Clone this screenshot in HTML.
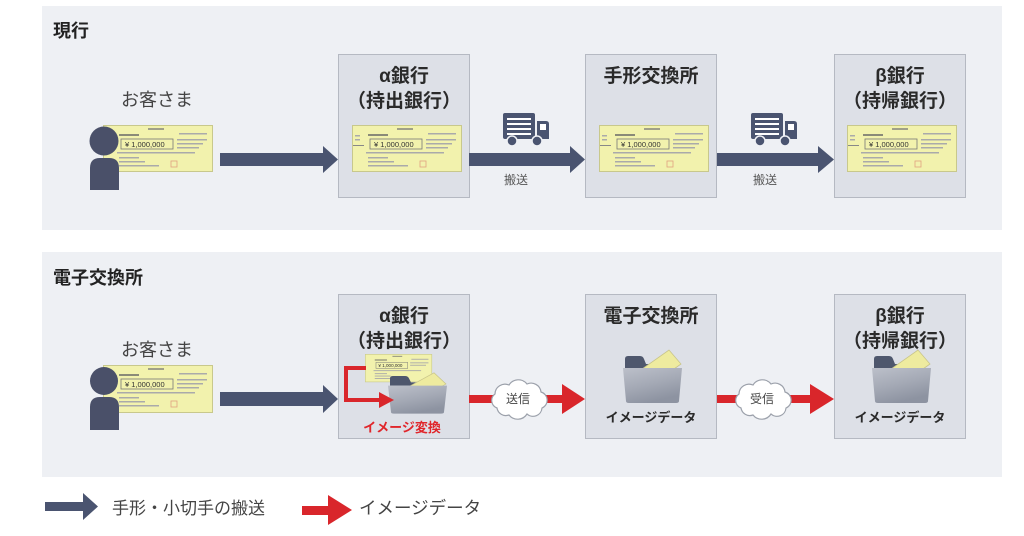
<!DOCTYPE html>
<html><head><meta charset="utf-8"><style>
html,body{margin:0;padding:0;background:#fff;}
svg{display:block;}
text{font-family:"Liberation Sans","Noto Sans CJK JP",sans-serif;}
</style></head><body>
<svg width="1024" height="536" viewBox="0 0 1024 536" xmlns="http://www.w3.org/2000/svg">
<defs>
<linearGradient id="fg" x1="0" y1="0" x2="0.4" y2="1">
<stop offset="0" stop-color="#bcc0ca"/><stop offset="0.55" stop-color="#a4a9b5"/><stop offset="1" stop-color="#8d93a1"/>
</linearGradient>
</defs>
<rect width="1024" height="536" fill="#fff"/>
<!-- panels -->
<rect x="42" y="6" width="960" height="224" fill="#eef0f4"/>
<rect x="42" y="252" width="960" height="225" fill="#eef0f4"/>
<text x="53" y="37" font-size="18" font-weight="bold" fill="#222">現行</text>
<text x="53" y="284" font-size="18" font-weight="bold" fill="#222">電子交換所</text>

<!-- boxes panel1 -->
<rect x="338.5" y="54.5" width="131" height="143" fill="#dde0e7" stroke="#b5b9c2"/>
<rect x="585.5" y="54.5" width="131" height="143" fill="#dde0e7" stroke="#b5b9c2"/>
<rect x="834.5" y="54.5" width="131" height="143" fill="#dde0e7" stroke="#b5b9c2"/>
<!-- boxes panel2 -->
<rect x="338.5" y="294.5" width="131" height="144" fill="#dde0e7" stroke="#b5b9c2"/>
<rect x="585.5" y="294.5" width="131" height="144" fill="#dde0e7" stroke="#b5b9c2"/>
<rect x="834.5" y="294.5" width="131" height="144" fill="#dde0e7" stroke="#b5b9c2"/>

<!-- box titles -->
<g font-size="19" font-weight="bold" fill="#2a2a2a" text-anchor="middle">
<text x="404" y="82">α銀行</text>
<text x="404" y="107">（持出銀行）</text>
<text x="651" y="82">手形交換所</text>
<text x="900" y="82">β銀行</text>
<text x="900" y="107">（持帰銀行）</text>
<text x="404" y="322">α銀行</text>
<text x="404" y="347">（持出銀行）</text>
<text x="651" y="322">電子交換所</text>
<text x="900" y="322">β銀行</text>
<text x="900" y="347">（持帰銀行）</text>
</g>

<!-- customer labels -->
<text x="157" y="106" font-size="18" fill="#444" text-anchor="middle">お客さま</text>
<text x="157" y="356" font-size="18" fill="#444" text-anchor="middle">お客さま</text>

<!-- checks -->
<g transform="translate(103,125)">
<rect x="0.5" y="0.5" width="109" height="46" fill="#f2f2ad" stroke="#c8c88c"/>
<rect x="45" y="3" width="16" height="2" fill="#a0a088"/><rect x="16" y="9" width="20" height="2" fill="#8a8a78"/>
<rect x="18" y="14" width="52" height="10" fill="none" stroke="#777" stroke-width="0.8"/>
<text x="22" y="22" font-size="7.5" fill="#333">¥ 1,000,000</text>
<rect x="76" y="8" width="28" height="1.5" fill="#aaa"/><rect x="74" y="14" width="30" height="1.5" fill="#aaa"/><rect x="74" y="18" width="26" height="1.5" fill="#aaa"/><rect x="74" y="22" width="22" height="1.5" fill="#aaa"/>
<rect x="14" y="27" width="78" height="1.5" fill="#aaa"/><rect x="16" y="32" width="20" height="1.5" fill="#aaa"/><rect x="16" y="36" width="26" height="1.5" fill="#aaa"/><rect x="16" y="40" width="40" height="1.5" fill="#aaa"/>
<rect x="68" y="36" width="6" height="6" fill="none" stroke="#e0a080" stroke-width="0.8"/>
</g>
<g transform="translate(352,125)">
<rect x="0.5" y="0.5" width="109" height="46" fill="#f2f2ad" stroke="#c8c88c"/>
<rect x="45" y="3" width="16" height="2" fill="#a0a088"/><rect x="16" y="9" width="20" height="2" fill="#8a8a78"/>
<rect x="3" y="10" width="5" height="1.5" fill="#aaa"/><rect x="3" y="14" width="5" height="1.5" fill="#aaa"/><rect x="1" y="20" width="11" height="1" fill="#888"/>
<rect x="18" y="14" width="52" height="10" fill="none" stroke="#777" stroke-width="0.8"/>
<text x="22" y="22" font-size="7.5" fill="#333">¥ 1,000,000</text>
<rect x="76" y="8" width="28" height="1.5" fill="#aaa"/><rect x="74" y="14" width="30" height="1.5" fill="#aaa"/><rect x="74" y="18" width="26" height="1.5" fill="#aaa"/><rect x="74" y="22" width="22" height="1.5" fill="#aaa"/>
<rect x="14" y="27" width="78" height="1.5" fill="#aaa"/><rect x="16" y="32" width="20" height="1.5" fill="#aaa"/><rect x="16" y="36" width="26" height="1.5" fill="#aaa"/><rect x="16" y="40" width="40" height="1.5" fill="#aaa"/>
<rect x="68" y="36" width="6" height="6" fill="none" stroke="#e0a080" stroke-width="0.8"/>
</g>
<g transform="translate(599,125)">
<rect x="0.5" y="0.5" width="109" height="46" fill="#f2f2ad" stroke="#c8c88c"/>
<rect x="45" y="3" width="16" height="2" fill="#a0a088"/><rect x="16" y="9" width="20" height="2" fill="#8a8a78"/>
<rect x="3" y="10" width="5" height="1.5" fill="#aaa"/><rect x="3" y="14" width="5" height="1.5" fill="#aaa"/><rect x="1" y="20" width="11" height="1" fill="#888"/>
<rect x="18" y="14" width="52" height="10" fill="none" stroke="#777" stroke-width="0.8"/>
<text x="22" y="22" font-size="7.5" fill="#333">¥ 1,000,000</text>
<rect x="76" y="8" width="28" height="1.5" fill="#aaa"/><rect x="74" y="14" width="30" height="1.5" fill="#aaa"/><rect x="74" y="18" width="26" height="1.5" fill="#aaa"/><rect x="74" y="22" width="22" height="1.5" fill="#aaa"/>
<rect x="14" y="27" width="78" height="1.5" fill="#aaa"/><rect x="16" y="32" width="20" height="1.5" fill="#aaa"/><rect x="16" y="36" width="26" height="1.5" fill="#aaa"/><rect x="16" y="40" width="40" height="1.5" fill="#aaa"/>
<rect x="68" y="36" width="6" height="6" fill="none" stroke="#e0a080" stroke-width="0.8"/>
</g>
<g transform="translate(847,125)">
<rect x="0.5" y="0.5" width="109" height="46" fill="#f2f2ad" stroke="#c8c88c"/>
<rect x="45" y="3" width="16" height="2" fill="#a0a088"/><rect x="16" y="9" width="20" height="2" fill="#8a8a78"/>
<rect x="3" y="10" width="5" height="1.5" fill="#aaa"/><rect x="3" y="14" width="5" height="1.5" fill="#aaa"/><rect x="1" y="20" width="11" height="1" fill="#888"/>
<rect x="18" y="14" width="52" height="10" fill="none" stroke="#777" stroke-width="0.8"/>
<text x="22" y="22" font-size="7.5" fill="#333">¥ 1,000,000</text>
<rect x="76" y="8" width="28" height="1.5" fill="#aaa"/><rect x="74" y="14" width="30" height="1.5" fill="#aaa"/><rect x="74" y="18" width="26" height="1.5" fill="#aaa"/><rect x="74" y="22" width="22" height="1.5" fill="#aaa"/>
<rect x="14" y="27" width="78" height="1.5" fill="#aaa"/><rect x="16" y="32" width="20" height="1.5" fill="#aaa"/><rect x="16" y="36" width="26" height="1.5" fill="#aaa"/><rect x="16" y="40" width="40" height="1.5" fill="#aaa"/>
<rect x="68" y="36" width="6" height="6" fill="none" stroke="#e0a080" stroke-width="0.8"/>
</g>
<g transform="translate(103,365)">
<rect x="0.5" y="0.5" width="109" height="47" fill="#f2f2ad" stroke="#c8c88c"/>
<rect x="45" y="3" width="16" height="2" fill="#a0a088"/><rect x="16" y="9" width="20" height="2" fill="#8a8a78"/>
<rect x="18" y="14" width="52" height="10" fill="none" stroke="#777" stroke-width="0.8"/>
<text x="22" y="22" font-size="7.5" fill="#333">¥ 1,000,000</text>
<rect x="76" y="8" width="28" height="1.5" fill="#aaa"/><rect x="74" y="14" width="30" height="1.5" fill="#aaa"/><rect x="74" y="18" width="26" height="1.5" fill="#aaa"/><rect x="74" y="22" width="22" height="1.5" fill="#aaa"/>
<rect x="14" y="27" width="78" height="1.5" fill="#aaa"/><rect x="16" y="32" width="20" height="1.5" fill="#aaa"/><rect x="16" y="36" width="26" height="1.5" fill="#aaa"/><rect x="16" y="40" width="40" height="1.5" fill="#aaa"/>
<rect x="68" y="36" width="6" height="6" fill="none" stroke="#e0a080" stroke-width="0.8"/>
</g>

<!-- persons -->
<g fill="#4a5069">
<circle cx="104" cy="141" r="14.5"/>
<path d="M90 190 L90 168 Q90 158 100 158 L109 158 Q119 158 119 168 L119 190 Z"/>
<circle cx="104" cy="381" r="14"/>
<path d="M90 430 L90 407 Q90 397 100 397 L109 397 Q119 397 119 407 L119 430 Z"/>
</g>

<!-- dark arrows -->
<g fill="#4a5470">
<path d="M220 153 L323 153 L323 146 L338 159.5 L323 173 L323 166 L220 166 Z"/>
<path d="M469 153 L570 153 L570 146 L585 159.5 L570 173 L570 166 L469 166 Z"/>
<path d="M717 153 L818 153 L818 146 L834 159.5 L818 173 L818 166 L717 166 Z"/>
<path d="M220 392 L323 392 L323 385 L338 399 L323 413 L323 406 L220 406 Z"/>
<path d="M45 502 L83 502 L83 493 L98 506.5 L83 520 L83 511 L45 511 Z"/>
</g>

<!-- trucks -->
<g>
<rect x="503" y="113" width="32" height="26" rx="2" fill="#4a5470"/>
<g fill="#fff"><rect x="507" y="118" width="24" height="2"/><rect x="507" y="123" width="24" height="2"/><rect x="507" y="128" width="24" height="2"/><rect x="507" y="133" width="24" height="2"/></g>
<path d="M537 121 L546 121 Q549 121 549 124 L549 139 L537 139 Z" fill="#4a5470"/>
<rect x="540" y="124" width="6" height="6" fill="#fff"/>
<circle cx="512" cy="141" r="5" fill="#4a5470" stroke="#eef0f4" stroke-width="1.5"/>
<circle cx="537" cy="141" r="5" fill="#4a5470" stroke="#eef0f4" stroke-width="1.5"/>
</g>
<g transform="translate(248,0)">
<rect x="503" y="113" width="32" height="26" rx="2" fill="#4a5470"/>
<g fill="#fff"><rect x="507" y="118" width="24" height="2"/><rect x="507" y="123" width="24" height="2"/><rect x="507" y="128" width="24" height="2"/><rect x="507" y="133" width="24" height="2"/></g>
<path d="M537 121 L546 121 Q549 121 549 124 L549 139 L537 139 Z" fill="#4a5470"/>
<rect x="540" y="124" width="6" height="6" fill="#fff"/>
<circle cx="512" cy="141" r="5" fill="#4a5470" stroke="#eef0f4" stroke-width="1.5"/>
<circle cx="537" cy="141" r="5" fill="#4a5470" stroke="#eef0f4" stroke-width="1.5"/>
</g>
<text x="516" y="184" font-size="12" fill="#555" text-anchor="middle">搬送</text>
<text x="765" y="184" font-size="12" fill="#555" text-anchor="middle">搬送</text>

<!-- alpha box panel2: small check -->
<g transform="translate(365,354) scale(0.61,0.6)">
<rect x="0.5" y="0.5" width="109" height="46" fill="#f2f2ad" stroke="#c8c88c"/>
<rect x="45" y="3" width="16" height="2" fill="#a0a088"/><rect x="16" y="9" width="20" height="2" fill="#8a8a78"/>
<rect x="18" y="14" width="52" height="10" fill="none" stroke="#777" stroke-width="0.8"/>
<text x="22" y="22" font-size="7.5" fill="#333">¥ 1,000,000</text>
<rect x="76" y="8" width="28" height="1.5" fill="#aaa"/><rect x="74" y="14" width="30" height="1.5" fill="#aaa"/><rect x="74" y="18" width="26" height="1.5" fill="#aaa"/>
<rect x="14" y="27" width="78" height="1.5" fill="#aaa"/><rect x="16" y="32" width="20" height="1.5" fill="#aaa"/><rect x="16" y="36" width="26" height="1.5" fill="#aaa"/><rect x="16" y="40" width="40" height="1.5" fill="#aaa"/>
</g>

<!-- folders -->
<g transform="translate(388,376) scale(1,0.8)">
<path d="M2 12 L2 3 Q2 0 5 0 L17 0 Q20 0 21 3 L23 8 L30 8 L30 12 Z" fill="#4e576d"/>
<polygon points="14,18 46,-4 58,10 26,32" fill="#eeeb9f" stroke="#c8c48a" stroke-width="0.8"/>
<path d="M0 12 L59 12 L56 45 Q56 47 53 47 L6 47 Q3 47 3 45 Z" fill="url(#fg)"/>
</g>
<g transform="translate(623,356)">
<path d="M2 12 L2 3 Q2 0 5 0 L17 0 Q20 0 21 3 L23 8 L30 8 L30 12 Z" fill="#4e576d"/>
<polygon points="12,18 46,-6 58,8 24,32" fill="#eeeb9f" stroke="#c8c48a" stroke-width="0.8"/>
<path d="M0 12 L59 12 L56 45 Q56 47 53 47 L6 47 Q3 47 3 45 Z" fill="url(#fg)"/>
</g>
<g transform="translate(872,356)">
<path d="M2 12 L2 3 Q2 0 5 0 L17 0 Q20 0 21 3 L23 8 L30 8 L30 12 Z" fill="#4e576d"/>
<polygon points="12,18 46,-6 58,8 24,32" fill="#eeeb9f" stroke="#c8c48a" stroke-width="0.8"/>
<path d="M0 12 L59 12 L56 45 Q56 47 53 47 L6 47 Q3 47 3 45 Z" fill="url(#fg)"/>
</g>

<!-- red bracket arrow -->
<polyline points="366,368 346,368 346,400 381,400" fill="none" stroke="#d9262b" stroke-width="4"/>
<polygon points="379,392 394,400 379,408" fill="#d9262b"/>
<text x="402" y="432" font-size="13" font-weight="bold" fill="#e0262b" text-anchor="middle">イメージ変換</text>
<g font-size="13" font-weight="bold" fill="#2a2a2a" text-anchor="middle">
<text x="651" y="422">イメージデータ</text>
<text x="900" y="422">イメージデータ</text>
</g>

<!-- red arrows -->
<g fill="#d9262b">
<path d="M469 395 L562 395 L562 384 L585 399 L562 414 L562 403 L469 403 Z"/>
<path d="M717 395 L810 395 L810 384 L834 399 L810 414 L810 403 L717 403 Z"/>
<path d="M302 506 L328 506 L328 495 L352 510 L328 525 L328 515 L302 515 Z"/>
</g>
<!-- clouds -->
<g fill="#fff" stroke="#9ca1ab" stroke-width="1.2">
<path transform="translate(487,378)" d="M10 30 A8 8 0 0 1 8 16 A10 10 0 0 1 22 7 A11 11 0 0 1 40 6 A10 10 0 0 1 54 14 A8.5 8.5 0 0 1 55 30 A9 9 0 0 1 40 36 A11 11 0 0 1 22 37 A9 9 0 0 1 10 30 Z"/>
<path transform="translate(731,378)" d="M10 30 A8 8 0 0 1 8 16 A10 10 0 0 1 22 7 A11 11 0 0 1 40 6 A10 10 0 0 1 54 14 A8.5 8.5 0 0 1 55 30 A9 9 0 0 1 40 36 A11 11 0 0 1 22 37 A9 9 0 0 1 10 30 Z"/>
</g>
<text x="518" y="403" font-size="12" fill="#444" text-anchor="middle">送信</text>
<text x="762" y="403" font-size="12" fill="#444" text-anchor="middle">受信</text>

<!-- legend -->
<text x="112" y="514" font-size="17" fill="#444">手形・小切手の搬送</text>
<text x="359" y="514" font-size="17.5" fill="#444">イメージデータ</text>
</svg>
</body></html>
